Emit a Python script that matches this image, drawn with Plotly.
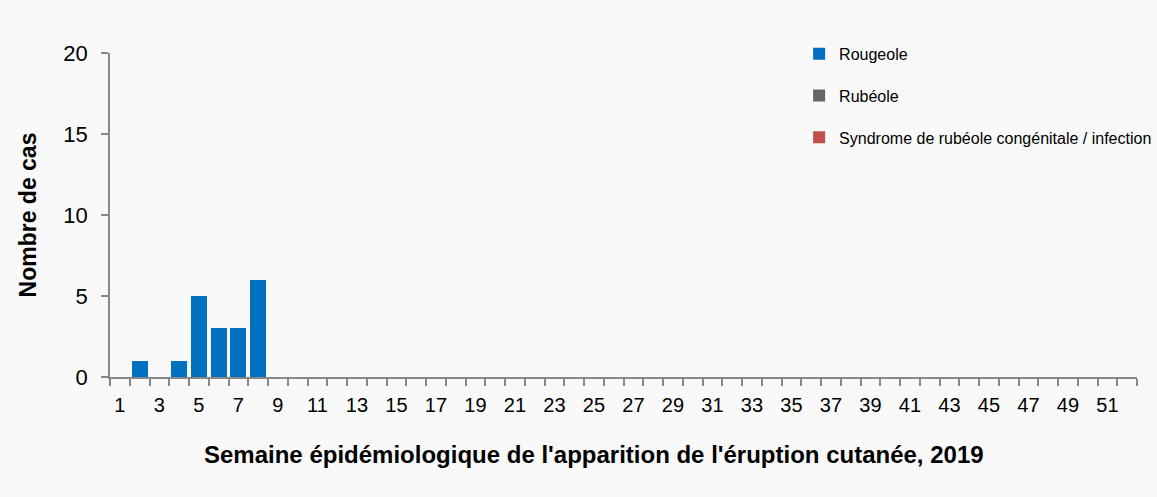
import plotly.graph_objects as go

weeks = list(range(1, 53))
rougeole = [0, 1, 0, 1, 5, 3, 3, 6] + [0] * 44
rubeole = [0] * 52
src = [0] * 52
tick_labels = [str(w) for w in range(1, 52, 2)]
x_title = "Semaine épidémiologique de l'apparition de l'éruption cutanée, 2019"
y_title = "Nombre de cas"

series = [
    ("Rougeole", rougeole, "#0070C0"),
    ("Rubéole", rubeole, "#666666"),
    ("Syndrome de rubéole congénitale / infection", src, "#C0504D"),
]

fig = go.Figure()
for i, (name, vals, col) in enumerate(series):
    fig.add_trace(go.Bar(x=weeks, y=vals, name=name, marker_color=col,
                         marker_line_width=0, legendgroup=f"g{i}"))

fig.update_layout(
    width=1157, height=497,
    barmode="stack", bargap=0.18,
    paper_bgcolor="#f9f9f9", plot_bgcolor="#f9f9f9",
    margin=dict(l=110, r=20, t=53, b=120, autoexpand=False),
    font=dict(family="Liberation Sans, Arial, sans-serif", color="#000000"),
    legend=dict(x=0.671, y=1.05, xanchor="left", yanchor="top",
                bgcolor="rgba(0,0,0,0)", font=dict(size=16),
                tracegroupgap=18, itemwidth=30),
    showlegend=True,
    annotations=[dict(text=f"<b>{x_title}</b>", xref="paper", yref="paper",
                      x=0.4713, y=-0.2407, xanchor="center", yanchor="middle",
                      showarrow=False, font=dict(size=24))],
)
fig.update_xaxes(
    range=[0.5, 52.5], tickmode="array", tickvals=list(range(1, 52, 2)),
    ticktext=tick_labels, ticks="", tickfont=dict(size=20), ticklabelstandoff=9,
    showline=True, linecolor="#888888", linewidth=1.5, showgrid=False, zeroline=False,
    minor=dict(tickmode="array", tickvals=[w + 0.5 for w in range(0, 53)],
               ticks="outside", ticklen=7, tickcolor="#888888", tickwidth=1.5, showgrid=False),
)
fig.update_yaxes(
    range=[0, 20], tickvals=[0, 5, 10, 15, 20], ticks="outside", ticklen=7,
    tickcolor="#888888", tickwidth=1.5, tickfont=dict(size=22), ticklabelstandoff=9,
    showline=True, linecolor="#888888", linewidth=1.5, showgrid=False, zeroline=False,
    title=dict(text=f"<b>{y_title}</b>", font=dict(size=23), standoff=20),
)

fig.write_html("out.html", config={"displayModeBar": False},
               post_script="document.body.style.margin='0';")
